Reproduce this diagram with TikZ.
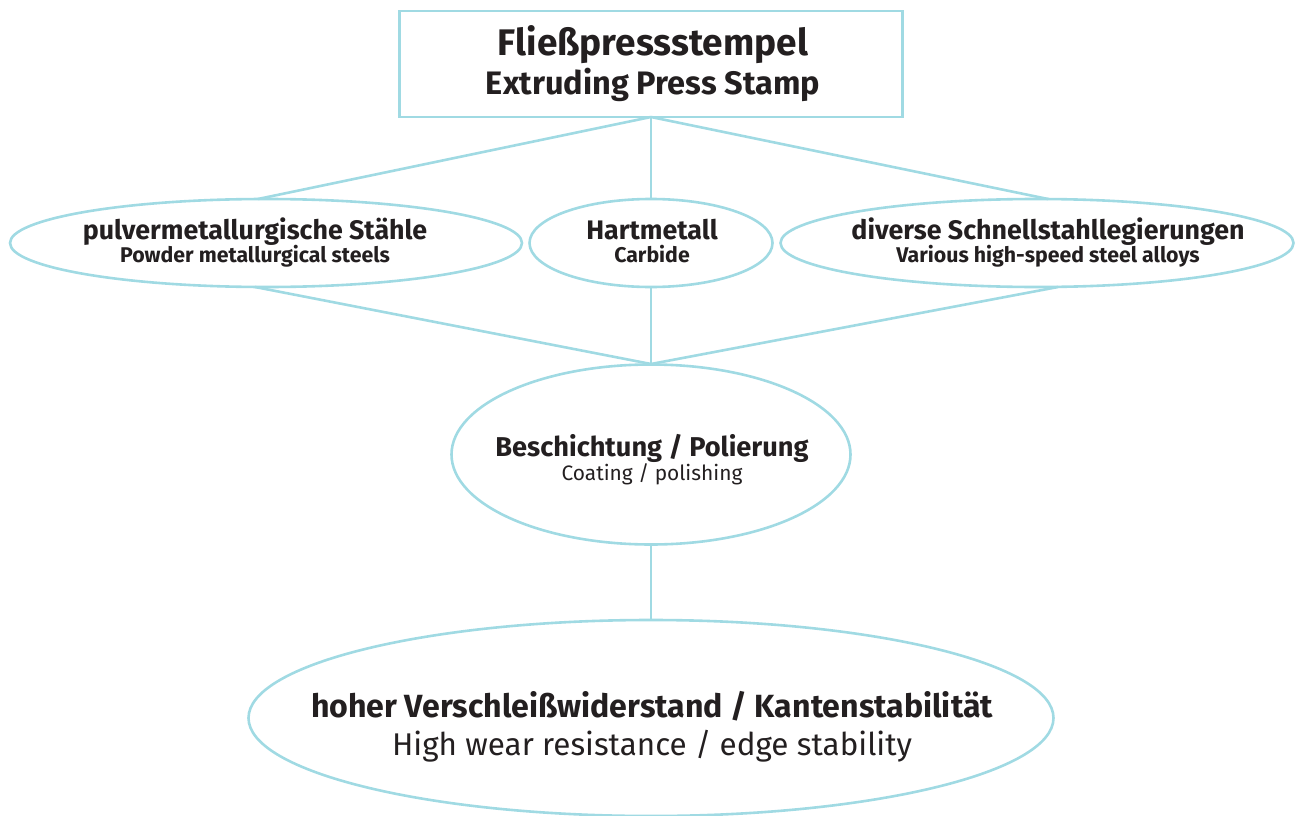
\documentclass[tikz,border=0pt]{standalone}
\usepackage{fontspec}
\setmainfont{Fira Sans}
\usetikzlibrary{shapes.geometric}
\definecolor{lineblue}{HTML}{A0DAE3}
\definecolor{ink}{HTML}{231F20}
\tikzset{
  conn/.style={draw=lineblue, line width=2.6pt},
  topbox/.style={draw=lineblue, line width=2.6pt, rectangle, inner sep=0pt, outer sep=0pt},
  ell/.style={draw=lineblue, line width=2.6pt, ellipse, inner sep=0pt, outer sep=0pt},
  txt/.style={text=ink, inner sep=0pt, anchor=base},
}
\newcommand{\fsz}[1]{\fontsize{#1}{#1}\selectfont}
\begin{document}
\begin{tikzpicture}[x=1pt,y=1pt]
\useasboundingbox (0,0) rectangle (1296,-816);
% shapes
\node[topbox, minimum width=503pt, minimum height=106pt] (top) at (651,-64) {};
\node[ell, minimum width=512pt, minimum height=88pt] (pm) at (266,-243) {};
\node[ell, minimum width=243pt, minimum height=88pt] (hm) at (651,-243) {};
\node[ell, minimum width=513pt, minimum height=88pt] (hs) at (1037,-243) {};
\node[ell, minimum width=399pt, minimum height=180pt] (bp) at (651,-454.5) {};
\node[ell, minimum width=805pt, minimum height=196pt] (res) at (651,-718) {};
% texts
\node[txt] (topa) at (653,-56) {\fsz{37}\bfseries Fließpressstempel};
\node[txt] (topb) at (653,-95) {\fsz{32.5}\bfseries Extruding Press Stamp};
\node[txt] (pma) at (255,-239) {\fsz{26.8}\bfseries pulvermetallurgische Stähle};
\node[txt] (pmb) at (255,-262) {\fsz{21.3}\bfseries Powder metallurgical steels};
\node[txt] (hma) at (652,-239) {\fsz{26.8}\bfseries Hartmetall};
\node[txt] (hmb) at (652,-262) {\fsz{21.3}\bfseries Carbide};
\node[txt] (hsa) at (1048,-239) {\fsz{26.8}\bfseries diverse Schnellstahllegierungen};
\node[txt] (hsb) at (1048,-262) {\fsz{21.3}\bfseries Various high-speed steel alloys};
\node[txt] (bpa) at (652,-456) {\fsz{27.2}\bfseries Beschichtung / Polierung};
\node[txt] (bpb) at (652,-480) {\fsz{20.9}Coating / polishing};
\node[txt] (resa) at (652,-717) {\fsz{32.1}\bfseries hoher Verschleißwiderstand / Kantenstabilität};
\node[txt] (resb) at (652,-755) {\fsz{31.4}High wear resistance / edge stability};
% connectors
\coordinate (join) at (651,-364);
\draw[conn] (top.south) -- ([xshift=-8pt]pm.north);
\draw[conn] (top.south) -- (hm.north);
\draw[conn] (top.south) -- ([xshift=11pt]hs.north);
\draw[conn] ([xshift=-11pt]pm.south) -- (join);
\draw[conn] (hm.south) -- (join);
\draw[conn] ([xshift=21pt]hs.south) -- (join);
\draw[conn] (bp.south) -- (res.north);
\end{tikzpicture}
\end{document}
